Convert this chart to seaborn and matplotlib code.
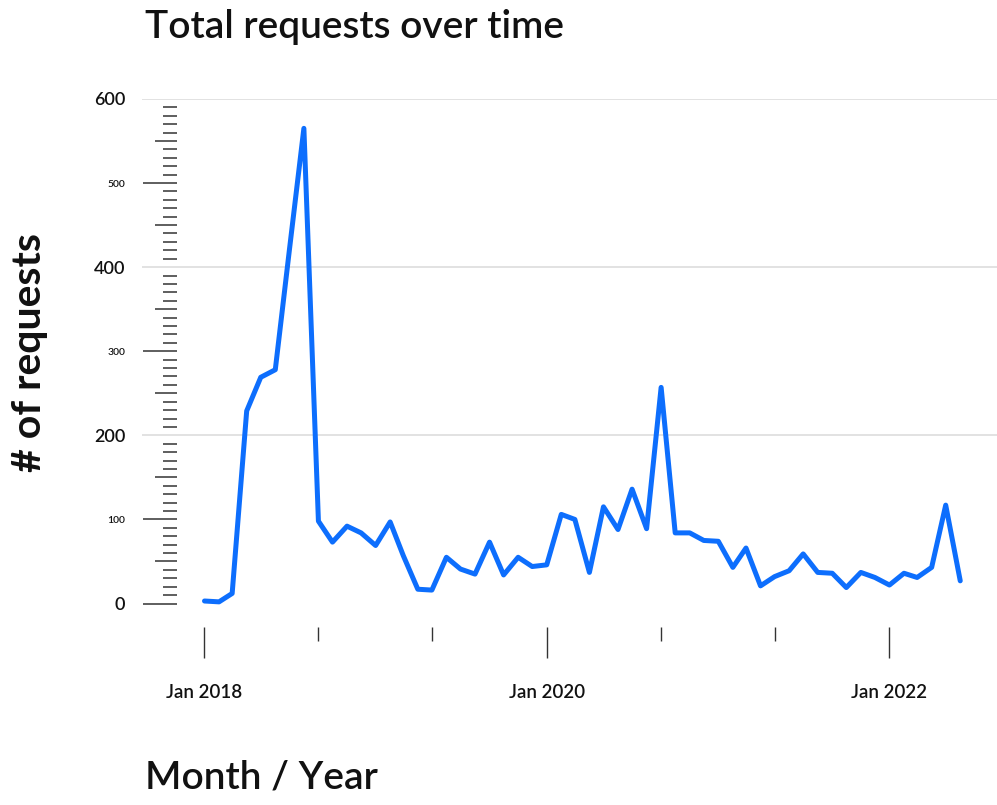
import numpy as np
import pandas as pd
import matplotlib
matplotlib.use('Agg')
import matplotlib.pyplot as plt
import matplotlib.dates as mdates
import matplotlib.ticker as mticker
import seaborn as sns

# --- data: monthly request counts starting Jan 2018 ---
months = pd.date_range('2018-01-01', periods=54, freq='MS')
requests = [3, 2, 12, 229, 269, 278, 420, 565,
            98, 73, 92, 84, 69, 97, 57, 17, 16,
            55, 41, 35, 73, 34, 55, 44, 46,
            106, 100, 37, 115, 88, 136, 89, 257,
            84, 84, 75, 74, 43, 66, 21, 32,
            39, 59, 37, 36, 19, 37, 31, 22,
            36, 31, 43, 117, 27]

# axis ticks
y_labelled = [0, 100, 200, 300, 400, 500, 600]
y_grid = [200, 400, 600]
y_mid = [50, 150, 250, 350, 450, 550]
y_small = [v for v in range(0, 601, 10) if v % 50 != 0]
x_major = pd.to_datetime(['2018-01-01', '2020-01-01', '2022-01-01'])
x_minor = pd.to_datetime(['2018-09-01', '2019-05-01', '2020-09-01', '2021-05-01', '2022-09-01'])

LINE_COLOR = '#0d6efd'
TICK_COLOR = '#333333'
TEXT_COLOR = '#111111'


def main():
    sns.set_style('white')
    plt.rcParams['font.family'] = ['Lato', 'DejaVu Sans']

    W, H = 997, 805
    fig = plt.figure(figsize=(W / 100, H / 100), dpi=100)
    ax = fig.add_axes([142 / W, 178 / H, 855 / W, 528.1 / H])

    df = pd.DataFrame({'month': months, 'requests': requests})
    sns.lineplot(data=df, x='month', y='requests', ax=ax,
                 color=LINE_COLOR, linewidth=3.6)
    line = ax.lines[0]
    line.set_solid_joinstyle('round')
    line.set_solid_capstyle('round')

    # --- scales ---
    start = pd.Timestamp('2018-01-01')
    ax.set_xlim(mdates.date2num(start - pd.Timedelta(days=133.3)),
                mdates.date2num(start + pd.Timedelta(days=1690.4)))
    ax.set_ylim(-27.9, 600)

    for s in ax.spines.values():
        s.set_visible(False)

    # gridlines only (no labels on main y axis)
    ax.set_yticks(y_grid)
    ax.yaxis.grid(True, color='#dddddd', linewidth=1.2)
    ax.xaxis.grid(False)
    ax.tick_params(axis='y', length=0, labelleft=False)
    ax.set_xlabel('')
    ax.set_ylabel('')

    # x axis: labelled every two years, small ticks every 8 months
    ax.xaxis.set_major_locator(mticker.FixedLocator(mdates.date2num(x_major)))
    ax.xaxis.set_minor_locator(mticker.FixedLocator(mdates.date2num(x_minor)))
    ax.xaxis.set_major_formatter(mdates.DateFormatter('%b %Y'))
    ax.tick_params(axis='x', which='both', bottom=True)
    ax.tick_params(axis='x', which='major', length=22.3, width=1, color=TICK_COLOR,
                   pad=18.5, labelsize=13.5, labelcolor=TEXT_COLOR)
    ax.tick_params(axis='x', which='minor', length=10, width=1, color=TICK_COLOR)
    for lab in ax.get_xticklabels():
        lab.set_fontweight('semibold')

    # y axis ruler, offset to the right of the gridline start
    loc = (177 - 142) / 855
    sec = ax.secondary_yaxis(loc)
    sec.spines['left'].set_visible(False)
    sec.set_yticks(y_labelled)
    sec.set_yticks(y_small, minor=True)
    sec.tick_params(which='both', left=True)
    sec.tick_params(which='major', length=24.5, width=1.1, color=TICK_COLOR,
                    pad=12.6, labelcolor=TEXT_COLOR)
    sec.tick_params(which='minor', length=10, width=1.1, color=TICK_COLOR)
    for tick, v in zip(sec.yaxis.get_major_ticks(), y_labelled):
        if v in y_grid:
            tick.tick1line.set_visible(False)
        if v % 200 == 0:
            tick.label1.set_fontsize(13)
        else:
            tick.label1.set_fontsize(7.5)
        tick.label1.set_fontweight('semibold')

    sec_mid = ax.secondary_yaxis(loc)
    sec_mid.spines['left'].set_visible(False)
    sec_mid.set_yticks(y_mid)
    sec_mid.tick_params(left=True, length=15.8, width=1.1, color=TICK_COLOR,
                        labelleft=False)

    # --- titles ---
    fig.text(145 / W, 1 - 38 / H, 'Total requests over time', fontsize=28,
             fontweight='semibold', va='baseline', ha='left', color=TEXT_COLOR)
    fig.text(30 / W, 1 - 352 / H, '# of requests', fontsize=29.5, rotation=90,
             fontweight='bold', va='center', ha='center', color=TEXT_COLOR)
    fig.text(145 / W, 1 - 788 / H, 'Month / Year', fontsize=28,
             fontweight='semibold', va='baseline', ha='left', color=TEXT_COLOR)

    fig.savefig('out.png', dpi=100)


if __name__ == '__main__':
    main()
